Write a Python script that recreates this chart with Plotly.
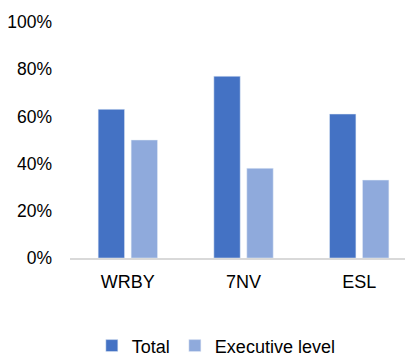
import plotly.graph_objects as go

categories = ["WRBY", "7NV", "ESL"]
total = [63, 77, 61]
executive = [50, 38, 33]
y_ticks = [0, 20, 40, 60, 80, 100]
y_tick_labels = ["0%", "20%", "40%", "60%", "80%", "100%"]

fig = go.Figure()
fig.add_trace(go.Bar(name="Total", x=categories, y=total, marker_color="#4472C4"))
fig.add_trace(go.Bar(name="Executive level", x=categories, y=executive, marker_color="#8FAADC"))

# page body has an 8px default margin; figure is sized/offset to compensate
fig.update_layout(
    width=405, height=348,
    margin=dict(l=62, r=0, t=14, b=98, pad=0, autoexpand=False),
    paper_bgcolor="white", plot_bgcolor="white",
    font=dict(family="Liberation Sans, Arial, sans-serif", size=18, color="#000000"),
    barmode="group", bargap=0.43, bargroupgap=0.2,
    showlegend=True,
    legend=dict(orientation="h", xref="container", x=0.207, xanchor="left",
                yref="container", y=0.029, yanchor="middle",
                font=dict(size=18), itemwidth=30, traceorder="normal"),
)
fig.update_xaxes(range=[-0.5, 2.465], showline=True, linecolor="#D9D9D9", linewidth=2,
                 showgrid=False, zeroline=False, ticks="", ticklabelstandoff=6, automargin=False)
fig.update_yaxes(range=[0, 100], tickvals=y_ticks, ticktext=y_tick_labels, showgrid=False,
                 zeroline=False, showline=False, ticks="", ticklabelstandoff=17, automargin=False,
                 tickfont=dict(size=17.5))

fig.write_html("out.html")
